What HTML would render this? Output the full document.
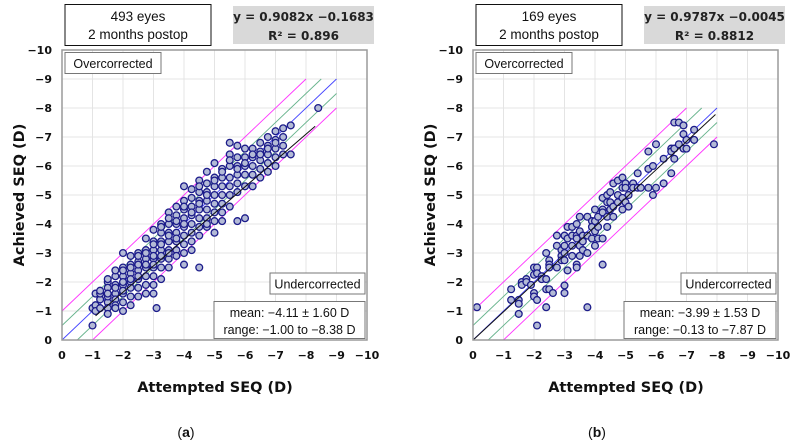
<!DOCTYPE html>
<html><head><meta charset="utf-8">
<style>
body{margin:0;background:#fff;width:790px;height:445px;overflow:hidden;font-family:"Liberation Sans",sans-serif}
svg{position:absolute;left:0;top:0}
text{font-family:"Liberation Sans",sans-serif}
text.dj{font-family:"DejaVu Sans",sans-serif}
</style></head>
<body>
<svg id="chart" width="790" height="445"></svg>
<script>
// Panel (a) data: attempted SEQ magnitude (D), achieved SEQ magnitude (D)
const leftAtt = [1.0,1.0, 1.1,1.1,1.1, 1.25,1.25,1.25,1.25,
1.5,1.5,1.5,1.5,1.5,1.5,1.5,1.5, 1.75,1.75,1.75,1.75,1.75,1.75,1.75,1.75,
2.0,2.0,2.0,2.0,2.0,2.0,2.0,2.0,2.0,2.0, 2.25,2.25,2.25,2.25,2.25,2.25,2.25,2.25,2.25,
2.5,2.5,2.5,2.5,2.5,2.5,2.5,2.5,2.5, 2.75,2.75,2.75,2.75,2.75,2.75,2.75,2.75,2.75,
3.0,3.0,3.0,3.0,3.0,3.0,3.0,3.0,3.0,3.0,3.0, 3.1,
3.25,3.25,3.25,3.25,3.25,3.25,3.25,3.25,3.25,3.25, 3.5,3.5,3.5,3.5,3.5,3.5,3.5,3.5,3.5,3.5,
3.75,3.75,3.75,3.75,3.75,3.75,3.75,3.75,3.75, 4.0,4.0,4.0,4.0,4.0,4.0,4.0,4.0,4.0,4.0,4.0,
4.25,4.25,4.25,4.25,4.25,4.25,4.25,4.25,4.25, 4.5,4.5,4.5,4.5,4.5,4.5,4.5,4.5,4.5,4.5,
4.75,4.75,4.75,4.75,4.75,4.75,4.75,4.75,4.75, 5.0,5.0,5.0,5.0,5.0,5.0,5.0,5.0,5.0,
5.25,5.25,5.25,5.25,5.25,5.25,5.25,5.25, 5.5,5.5,5.5,5.5,5.5,5.5,5.5,5.5,
5.75,5.75,5.75,5.75,5.75,5.75,5.75,5.75, 6.0,6.0,6.0,6.0,6.0,6.0,6.0,
6.25,6.25,6.25,6.25,6.25,6.25, 6.5,6.5,6.5,6.5,6.5,6.5, 6.75,6.75,6.75,6.75,6.75,6.75,
7.0,7.0,7.0,7.0,7.0,7.0, 7.25,7.25,7.25,7.25, 7.5,7.5, 8.4];
const leftAch = [0.5,1.1, 1.6,1.2,1.0, 1.4,1.6,1.1,1.7,
2.0,1.8,1.3,1.1,1.5,0.9,1.6,2.1, 2.2,1.9,1.6,1.4,1.2,2.4,1.8,1.1,
3.0,2.5,2.2,1.9,1.6,1.3,1.0,2.4,2.0,1.7, 2.9,2.6,2.3,2.0,1.8,1.5,1.2,2.5,2.1,
3.0,2.7,2.4,2.1,1.8,1.5,2.9,2.6,2.2, 3.5,3.1,2.8,2.5,2.2,1.9,1.6,3.0,2.6,
3.8,3.4,3.1,2.8,2.5,2.2,1.9,1.6,3.3,2.9,2.6, 1.1,
4.0,3.7,3.4,3.1,2.8,2.5,2.1,3.9,3.3,2.9, 4.4,4.0,3.7,3.4,3.1,2.8,2.5,4.2,3.6,3.0,
4.6,4.3,4.0,3.7,3.4,3.1,2.9,4.1,3.5, 5.3,4.8,4.5,4.2,3.9,3.6,3.3,3.0,2.6,4.6,4.0,
5.2,4.9,4.6,4.3,4.0,3.7,3.4,3.1,4.4, 5.5,5.1,4.8,4.5,4.2,3.9,3.6,2.5,5.3,4.7,
5.8,5.4,5.1,4.8,4.5,4.2,3.9,4.0,5.0, 6.1,5.6,5.3,5.0,4.7,4.4,4.1,3.7,5.5,
5.9,5.6,5.3,5.0,4.7,4.4,4.1,5.8, 6.8,6.4,6.0,5.6,5.3,5.0,4.6,6.2,
6.7,6.3,6.0,5.7,5.4,5.1,4.1,5.9, 6.6,6.3,6.0,5.7,5.3,4.2,6.1,
6.6,6.3,6.0,5.7,5.3,6.4, 6.8,6.5,6.2,5.9,5.6,6.4, 7.0,6.7,6.4,6.1,5.8,6.6,
7.2,6.9,6.6,6.3,6.0,6.8, 7.3,7.0,6.7,6.4, 7.4,6.4, 8.0];
// Panel (b) data
const rightAtt = [0.13, 1.25,1.25, 1.5,1.5,1.5, 1.6,1.6, 1.75,1.75, 1.9, 2.0,2.0,2.0,2.0,
2.1,2.1,2.1,2.1, 2.25,2.25, 2.4,2.4,2.4,2.4, 2.5,2.5,2.5,2.5, 2.62, 2.75,2.75,2.75,
2.9,2.9,2.9, 3.0,3.0,3.0,3.0,3.0,3.0, 3.1,3.1,3.1, 3.25,3.25,3.25,3.25, 3.4,3.4,3.4,3.4,3.4,
3.5,3.5,3.5,3.5, 3.6,3.6,3.6, 3.75,3.75,3.75,3.75, 3.9,3.9,3.9, 4.0,4.0,4.0,4.0,
4.1,4.1,4.1, 4.25,4.25,4.25,4.25,4.25, 4.4,4.4,4.4,4.4, 4.5,4.5,4.5, 4.6,4.6,4.6,
4.75,4.75,4.75, 4.9,4.9,4.9,4.9, 5.0,5.0,5.0, 5.1,5.1, 5.25,5.25, 5.4,5.4, 5.5,
5.75,5.75,5.75, 5.9,5.9, 6.0,6.0, 6.25,6.25, 6.5,6.5,6.5, 6.6,6.6,6.6, 6.75,6.75,
6.9,6.9,6.9, 7.0,7.0, 7.25,7.25, 7.9];
const rightAch = [1.13, 1.75,1.38, 1.38,0.9,1.25, 2.0,1.9, 2.1,2.0, 1.9, 2.5,2.25,1.62,1.5,
2.5,2.3,1.38,0.5, 2.2,2.1, 3.0,2.1,1.75,1.13, 2.75,2.6,2.5,1.75, 1.62, 3.6,3.25,2.5,
3.1,2.9,2.75, 3.6,3.25,3.0,2.75,1.88,1.62, 3.5,2.4,3.9, 3.9,3.6,3.25,2.9, 4.0,3.6,3.5,2.6,2.5,
4.25,3.75,3.25,2.9, 3.6,3.4,3.1, 4.25,3.6,3.0,1.13, 4.1,3.9,3.5, 4.5,4.1,3.75,3.25,
4.25,3.9,3.5, 4.9,4.5,4.4,3.5,2.6, 5.0,4.75,4.25,3.9, 5.1,4.75,4.5, 5.4,4.6,4.25,
5.5,5.0,4.75, 5.6,5.25,4.9,4.5, 5.4,5.25,4.75, 5.0,4.6, 5.4,5.25, 5.75,5.25, 5.25,
6.5,5.9,5.25, 6.0,5.0, 6.75,5.25, 6.25,5.4, 6.6,6.5,5.75, 7.5,6.6,6.25, 7.5,6.75,
7.4,7.1,6.6, 6.9,6.6, 7.25,6.9, 6.75];
const tickLabels = ["0","−1","−2","−3","−4","−5","−6","−7","−8","−9","−10"];
const leftFit = [0.9082, 0.1683];
const rightFit = [0.9787, 0.0045];

const NS = "http://www.w3.org/2000/svg";
const svg = document.getElementById('chart');
function mk(tag, attrs, parent){const e=document.createElementNS(NS,tag);for(const k in attrs)e.setAttribute(k,attrs[k]);(parent||svg).appendChild(e);return e;}

function panel(ox, att, ach, fit, lineMax, fitRange, eyes, eq, r2, stats, letter, key){
  const g = mk('g',{});
  
  
  const X0=ox, XU=30.5, Y0=340, YU=29;
  const sx=v=>X0+v*XU, sy=v=>Y0-v*YU;
  for(let i=1;i<10;i++){
    const gx=mk('line',{x1:sx(i),x2:sx(i),y1:sy(0),y2:sy(10),stroke:'#e4e4e4','stroke-width':1},g);
    
    
    const gy=mk('line',{x1:sx(0),x2:sx(10),y1:sy(i),y2:sy(i),stroke:'#e4e4e4','stroke-width':1},g);
    
    
  }
  const refs=[[0,1,lineMax-1,lineMax,'#ff33ff'],[0,0.5,lineMax-0.5,lineMax,'#66b38c'],[0,0,lineMax,lineMax,'#4444ff'],[0.5,0,lineMax,lineMax-0.5,'#66b38c'],[1,0,lineMax,lineMax-1,'#ff33ff']];
  refs.forEach(r=>{
    const l=mk('line',{x1:sx(r[0]),y1:sy(r[1]),x2:sx(r[2]),y2:sy(r[3]),stroke:r[4],'stroke-width':0.9},g);
    
    
  });
  for(let i=0;i<att.length;i++){
    const c=mk('circle',{cx:sx(att[i]),cy:sy(ach[i]),r:3.4,fill:'#b3bad6',stroke:'#1c1c8a','stroke-width':1.3},g);
    
    
  }
  const fl=mk('line',{x1:sx(fitRange[0]),y1:sy(fit[0]*fitRange[0]-fit[1]),x2:sx(fitRange[1]),y2:sy(fit[0]*fitRange[1]-fit[1]),stroke:'#111','stroke-width':1},g);
  
  
  const fr=mk('rect',{x:sx(0),y:sy(10),width:10*XU,height:10*YU,fill:'none',stroke:'#9a9a9a','stroke-width':1.5},g);
  
  
  for(let i=0;i<=10;i++){
    const ty=mk('text',{class:'dj',x:ox-10,y:sy(i)+4,'text-anchor':'end','font-size':11,'font-weight':'bold',fill:'#111'},g);
    ty.textContent=tickLabels[i];
    
    
    const tx=mk('text',{class:'dj',x:sx(i),y:359,'text-anchor':'middle','font-size':11,'font-weight':'bold',fill:'#111'},g);
    tx.textContent=tickLabels[i];
    
    
  }
  const yt=mk('text',{class:'dj',x:0,y:0,transform:`translate(${ox-38},195) rotate(-90)`,'text-anchor':'middle','font-size':14.5,'font-weight':'bold',fill:'#111'},g);
  yt.textContent='Achieved SEQ (D)';
  
  
  const xt=mk('text',{class:'dj',x:ox+153,y:392,'text-anchor':'middle','font-size':14.5,'font-weight':'bold',fill:'#111'},g);
  xt.textContent='Attempted SEQ (D)';
  
  
  const eb=mk('rect',{x:ox+3,y:4.5,width:146,height:41,fill:'#fff',stroke:'#111','stroke-width':1},g);
  
  
  [[eyes,21],['2 months postop',39]].forEach(t=>{
    const e=mk('text',{x:ox+76,y:t[1],'text-anchor':'middle','font-size':13.5,fill:'#111'},g);
    e.textContent=t[0];
    
    
  });
  const qb=mk('rect',{x:ox+171,y:6,width:141,height:38,fill:'#d9d9d9'},g);
  
  
  [[eq,21],[r2,40]].forEach(t=>{
    const e=mk('text',{class:'dj',x:ox+241.5,y:t[1],'text-anchor':'middle','font-size':12,'font-weight':'bold',fill:'#222'},g);
    e.textContent=t[0];
    
    
  });
  const ob=mk('rect',{x:ox+3,y:52.5,width:96,height:21,fill:'#fff',stroke:'#777','stroke-width':1},g);
  
  
  const ot=mk('text',{x:ox+51,y:68,'text-anchor':'middle','font-size':12.5,fill:'#111'},g);
  ot.textContent='Overcorrected';
  
  
  const ub=mk('rect',{x:ox+208,y:273,width:95,height:21,fill:'#fff',stroke:'#777','stroke-width':1},g);
  
  
  const ut=mk('text',{x:ox+255.5,y:288.5,'text-anchor':'middle','font-size':12.5,fill:'#111'},g);
  ut.textContent='Undercorrected';
  
  
  const sb=mk('rect',{x:stats[2],y:301.5,width:303+ox-stats[2],height:37,fill:'#fff',stroke:'#777','stroke-width':1},g);
  
  
  const cx=(stats[2]+303+ox)/2;
  [[stats[0],317],[stats[1],334]].forEach(t=>{
    const e=mk('text',{x:cx,y:t[1],'text-anchor':'middle','font-size':12.5,fill:'#111'},g);
    e.textContent=t[0];
    
    
  });
  const lt=mk('text',{x:ox+124,y:437,'text-anchor':'middle','font-size':14,fill:'#111','font-family':'Liberation Serif, serif'},g);
  lt.innerHTML=letter;
  
  
}
panel(62, leftAtt, leftAch, leftFit, 9, [1.1,8.3], '493 eyes', 'y = 0.9082x −0.1683', 'R² = 0.896',
  ['mean: −4.11 ± 1.60 D','range: −1.00 to −8.38 D',214], '(<tspan font-weight="bold">a</tspan>)','a');
panel(473, rightAtt, rightAch, rightFit, 8, [0,7.95], '169 eyes', 'y = 0.9787x −0.0045', 'R² = 0.8812',
  ['mean: −3.99 ± 1.53 D','range: −0.13 to −7.87 D',624], '(<tspan font-weight="bold">b</tspan>)','b');
</script>
</body></html>
